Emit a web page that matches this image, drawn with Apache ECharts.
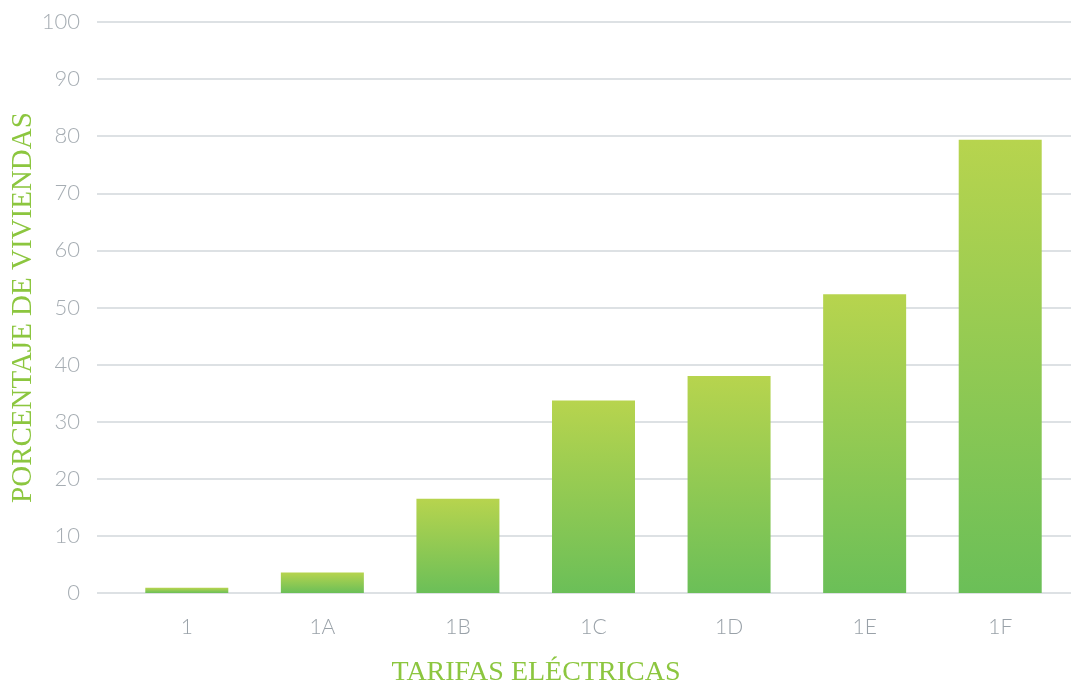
<!DOCTYPE html>
<html lang="es">
<head>
    <meta charset="UTF-8">
    <title>Tarifas eléctricas</title>
    <style type="text/css">
        html, body { margin: 0; padding: 0; background: #fff; }
        #chart { width: 1071px; height: 689px; }
    </style>
</head>
<body>
<div id="chart"></div>
<script src="https://cdn.jsdelivr.net/npm/echarts@6/dist/echarts.min.js"></script>
<script>
    // datos
    var tarifas = ['1', '1A', '1B', '1C', '1D', '1E', '1F'];
    var porcentajes = [0.9, 3.6, 16.5, 33.7, 38.0, 52.3, 79.4];
    var yTicks = [0, 100, 10];   // min, max, intervalo

    var myChart = echarts.init(document.getElementById('chart'));
    var option = {
        animation: false,
        grid: [
            {left: 97, right: 0, top: 22, bottom: 96, outerBoundsMode: 'none'},
            {left: 119, right: 3, top: 22, bottom: 96, outerBoundsMode: 'none'}
        ],
        xAxis: [
            {
                gridIndex: 0, type: 'value', min: 0, max: 1, show: false
            },
            {
                gridIndex: 1, type: 'category', data: tarifas,
                axisLine: {show: false},
                axisTick: {show: false},
                axisLabel: {color: '#99a1a8', fontFamily: 'Lato', fontWeight: 300, fontSize: 21, margin: 24},
                name: 'TARIFAS ELÉCTRICAS',
                nameLocation: 'middle',
                nameGap: 66,
                nameMoveOverlap: false,
                nameTextStyle: {
                    color: '#8cc63f', fontFamily: 'Liberation Serif', fontSize: 28,
                    padding: [0, 115, 0, 0]
                }
            }
        ],
        yAxis: [
            {
                gridIndex: 0, type: 'value',
                min: yTicks[0], max: yTicks[1], interval: yTicks[2],
                axisLine: {show: false},
                axisTick: {show: false},
                axisLabel: {color: '#a6adb3', fontFamily: 'Lato', fontWeight: 300, fontSize: 22, margin: 17},
                splitLine: {lineStyle: {color: '#dde1e4', width: 2}},
                name: 'PORCENTAJE DE VIVIENDAS',
                nameLocation: 'middle',
                nameGap: 59,
                nameMoveOverlap: false,
                nameTextStyle: {color: '#8cc63f', fontFamily: 'Liberation Serif', fontSize: 29}
            },
            {
                gridIndex: 1, type: 'value',
                min: yTicks[0], max: yTicks[1], interval: yTicks[2],
                show: false
            }
        ],
        series: [
            {
                type: 'bar',
                xAxisIndex: 1,
                yAxisIndex: 1,
                data: porcentajes,
                barWidth: 83,
                itemStyle: {
                    color: new echarts.graphic.LinearGradient(0, 0, 0, 1, [
                        {offset: 0, color: '#b7d44e'},
                        {offset: 1, color: '#6bbf58'}
                    ])
                }
            }
        ]
    };
    myChart.setOption(option);
</script>
</body>
</html>
